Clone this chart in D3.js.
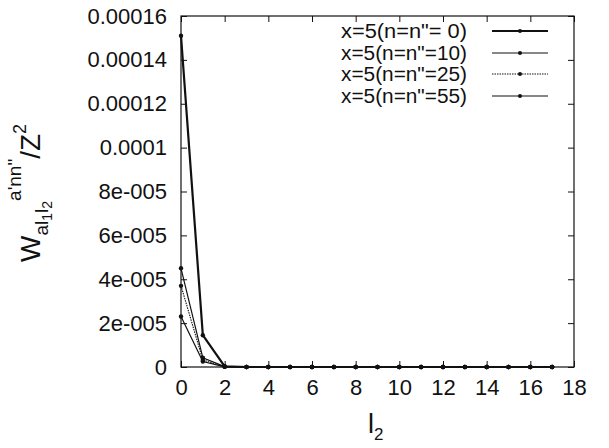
<!DOCTYPE html>
<html>
<head>
<meta charset="utf-8">
<script src="https://cdn.jsdelivr.net/npm/d3@7"></script>
<style>
  body { margin: 0; background: #fff; }
  text { font-family: "Liberation Sans", Arial, sans-serif; fill: #111; }
</style>
</head>
<body>
<div id="chart"></div>
<script>
// l2 values 0..17
const l2 = [0, 1, 2, 3, 4, 5, 6, 7, 8, 9, 10, 11, 12, 13, 14, 15, 16, 17];
const w_n0  = [1.51e-4, 1.45e-5, 3e-7, 0, 0, 0, 0, 0, 0, 0, 0, 0, 0, 0, 0, 0, 0, 0];
const w_n10 = [4.5e-5, 4.2e-6, 2e-7, 0, 0, 0, 0, 0, 0, 0, 0, 0, 0, 0, 0, 0, 0, 0];
const w_n25 = [3.7e-5, 3.2e-6, 1e-7, 0, 0, 0, 0, 0, 0, 0, 0, 0, 0, 0, 0, 0, 0, 0];
const w_n55 = [2.3e-5, 2.5e-6, 1e-7, 0, 0, 0, 0, 0, 0, 0, 0, 0, 0, 0, 0, 0, 0, 0];
const seriesNames = ['x=5(n=n"= 0)', 'x=5(n=n"=10)', 'x=5(n=n"=25)', 'x=5(n=n"=55)'];
const xTicks = [0, 2, 4, 6, 8, 10, 12, 14, 16, 18];
const yTicks = [0, 2e-5, 4e-5, 6e-5, 8e-5, 1e-4, 1.2e-4, 1.4e-4, 1.6e-4];
const yTickLabels = ["0", "2e-005", "4e-005", "6e-005", "8e-005", "0.0001", "0.00012", "0.00014", "0.00016"];

const width = 609, height = 448;
const margin = {top: 16, right: 35, bottom: 81, left: 181};

const svg = d3.select("#chart").append("svg")
  .attr("width", width).attr("height", height);

const x = d3.scaleLinear().domain([0, 18]).range([margin.left, width - margin.right]);
const y = d3.scaleLinear().domain([0, 1.6e-4]).range([height - margin.bottom, margin.top]);

const styles = [
  {w: 2.2, dash: null},
  {w: 1.2, dash: null},
  {w: 1.1, dash: "1.5,1"},
  {w: 1.2, dash: null}
];
const series = [w_n0, w_n10, w_n25, w_n55];

// border
svg.append("rect")
  .attr("x", x(0)).attr("y", y(1.6e-4))
  .attr("width", x(18) - x(0)).attr("height", y(0) - y(1.6e-4))
  .attr("fill", "none").attr("stroke", "#111").attr("stroke-width", 1.2);

// axes, gnuplot-ish inward ticks, mirrored
const tk = 6;
svg.append("g")
  .attr("transform", `translate(0,${y(0)})`)
  .call(d3.axisBottom(x).tickValues(xTicks).tickSizeInner(-tk).tickSizeOuter(0).tickPadding(12))
  .call(g => g.select(".domain").remove())
  .call(g => g.selectAll("text").attr("font-size", 22).attr("fill", "#111"));
svg.append("g")
  .attr("transform", `translate(0,${y(1.6e-4)})`)
  .call(d3.axisTop(x).tickValues(xTicks).tickSizeInner(-tk).tickSizeOuter(0).tickFormat(""))
  .call(g => g.select(".domain").remove());
svg.append("g")
  .attr("transform", `translate(${x(0)},0)`)
  .call(d3.axisLeft(y).tickValues(yTicks).tickSizeInner(-tk).tickSizeOuter(0).tickPadding(14)
    .tickFormat((d, i) => yTickLabels[i]))
  .call(g => g.select(".domain").remove())
  .call(g => g.selectAll("text").attr("font-size", 22).attr("fill", "#111"));
svg.append("g")
  .attr("transform", `translate(${x(18)},0)`)
  .call(d3.axisRight(y).tickValues(yTicks).tickSizeInner(-tk).tickSizeOuter(0).tickFormat(""))
  .call(g => g.select(".domain").remove());
svg.selectAll(".tick line").attr("stroke", "#111").attr("stroke-width", 1);

// lines + points
const line = d3.line().x((d, i) => x(l2[i])).y(d => y(d));
series.forEach((s, k) => {
  svg.append("path").datum(s)
    .attr("d", line)
    .attr("fill", "none").attr("stroke", "#111")
    .attr("stroke-width", styles[k].w)
    .attr("stroke-dasharray", styles[k].dash);
  svg.append("g").selectAll("circle").data(s).join("circle")
    .attr("cx", (d, i) => x(l2[i])).attr("cy", d => y(d))
    .attr("r", 2.2).attr("fill", "#111");
});

// legend
const legY = [31, 53, 74, 96];
seriesNames.forEach((name, k) => {
  svg.append("text")
    .attr("x", 467).attr("y", legY[k]).attr("dy", "0.36em")
    .attr("text-anchor", "end").attr("font-size", 20.5)
    .attr("textLength", 126).attr("lengthAdjust", "spacingAndGlyphs")
    .text(name);
  svg.append("line")
    .attr("x1", 492).attr("x2", 548).attr("y1", legY[k]).attr("y2", legY[k])
    .attr("stroke", "#111").attr("stroke-width", styles[k].w)
    .attr("stroke-dasharray", styles[k].dash);
  svg.append("circle").attr("cx", 520).attr("cy", legY[k]).attr("r", 2).attr("fill", "#111");
});

// x label
const xl = svg.append("text")
  .attr("x", 368).attr("y", 433)
  .attr("font-size", 27);
xl.append("tspan").text("l");
xl.append("tspan").attr("font-size", 17).attr("dy", 7).text("2");

// y label
const yl = svg.append("text")
  .attr("transform", "translate(40,262) rotate(-90)")
  .attr("font-size", 28);
yl.append("tspan").text("W");
yl.append("tspan").attr("font-size", 19).attr("dy", 8).text("al");
yl.append("tspan").attr("font-size", 14).attr("dy", 4).text("1");
yl.append("tspan").attr("font-size", 19).attr("dy", -4).text("l");
yl.append("tspan").attr("font-size", 14).attr("dy", 4).text("2");
yl.append("tspan").attr("font-size", 19).attr("dy", -31).text("a'nn\"");
yl.append("tspan").attr("font-size", 28).attr("dy", 19).text("/Z");
yl.append("tspan").attr("font-size", 18).attr("dy", -14).text("2");
</script>
</body>
</html>
